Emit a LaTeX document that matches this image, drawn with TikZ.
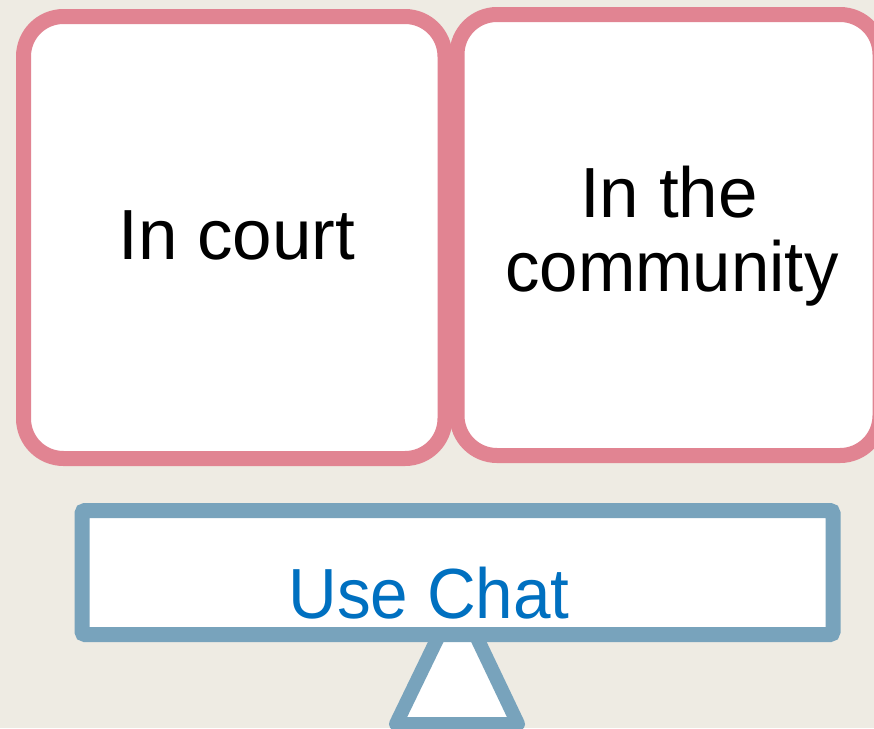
\documentclass[tikz,border=0pt]{standalone}
\usepackage{fontspec}
\setmainfont{Liberation Sans}
\definecolor{bgc}{HTML}{EEEBE3}
\definecolor{pinkc}{HTML}{E18492}
\definecolor{bluec}{HTML}{78A3BC}
\definecolor{textblue}{HTML}{0070C0}
\begin{document}
\begin{tikzpicture}[x=1pt,y=-1pt,
  pinkbox/.style={draw=pinkc,fill=white,line width=15pt,rounded corners=40pt,inner sep=0pt},
  bigtext/.style={font=\fontsize{71}{74}\selectfont,anchor=base,inner sep=0pt},
  bluebox/.style={draw=bluec,fill=white,line width=15pt,rounded corners=3pt,inner sep=0pt},
  stand/.style={draw=bluec,fill=white,line width=14pt,line join=round}]
\useasboundingbox[fill=bgc] (0,0) rectangle (874,728);
% stand (triangle)
\coordinate (apex) at (457.5,597);
\coordinate (bl) at (396,724);
\coordinate (br) at (518,724);
\draw[stand] (apex) -- (bl) -- (br) -- cycle;
% boxes
\node[pinkbox,minimum width=421.5pt,minimum height=442pt] (court) at (234.25,237.5) {};
\node[pinkbox,minimum width=423pt,minimum height=441pt] (community) at (668.5,235) {};
\node[bigtext] (courttext) at (237,259) {In court};
\node[bigtext] (comtext1) at (669,217) {In the};
\node[bigtext,xscale=0.97] (comtext2) at (672,291) {community};
\node[bluebox,minimum width=751pt,minimum height=124pt] (chatbox) at (457.5,572.5) {};
\node[bigtext,text=textblue,xscale=0.95] (chattext) at (429,618) {Use Chat};
\end{tikzpicture}
\end{document}
